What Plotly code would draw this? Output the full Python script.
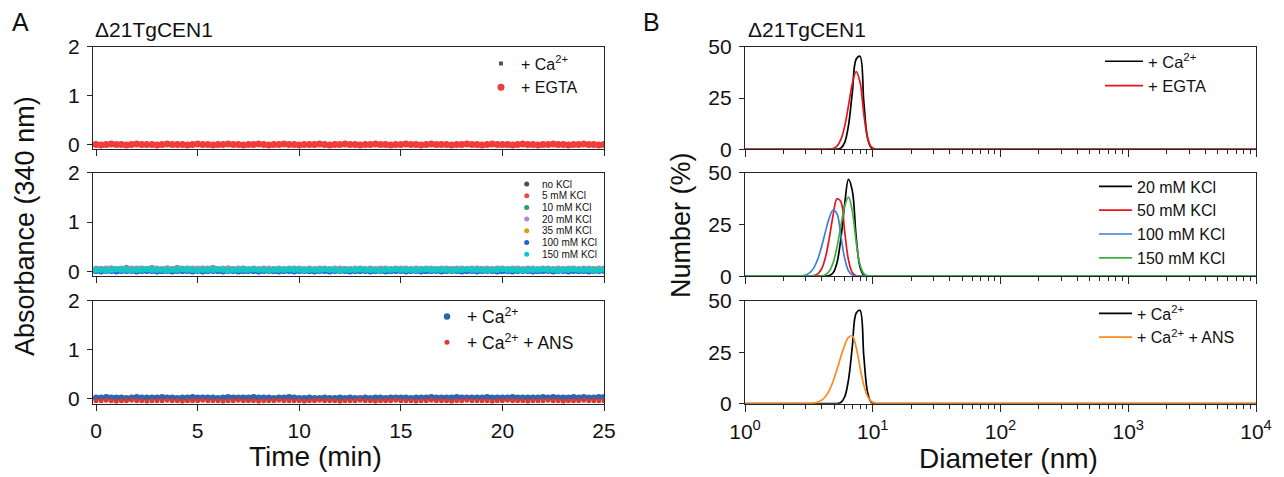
import plotly.graph_objects as go

W, H = 1284, 477
FONT = "Liberation Sans, Arial, sans-serif"
INK = "#111111"
AXIS = "#262626"

# ---------------- Panel A: turbidity (absorbance at 340 nm) vs time ----------------
TIME_MIN = [
    0.00, 0.25, 0.50, 0.75, 1.00, 1.25, 1.50, 1.75, 2.00, 2.25,
    2.50, 2.75, 3.00, 3.25, 3.50, 3.75, 4.00, 4.25, 4.50, 4.75,
    5.00, 5.25, 5.50, 5.75, 6.00, 6.25, 6.50, 6.75, 7.00, 7.25,
    7.50, 7.75, 8.00, 8.25, 8.50, 8.75, 9.00, 9.25, 9.50, 9.75,
    10.00, 10.25, 10.50, 10.75, 11.00, 11.25, 11.50, 11.75, 12.00, 12.25,
    12.50, 12.75, 13.00, 13.25, 13.50, 13.75, 14.00, 14.25, 14.50, 14.75,
    15.00, 15.25, 15.50, 15.75, 16.00, 16.25, 16.50, 16.75, 17.00, 17.25,
    17.50, 17.75, 18.00, 18.25, 18.50, 18.75, 19.00, 19.25, 19.50, 19.75,
    20.00, 20.25, 20.50, 20.75, 21.00, 21.25, 21.50, 21.75, 22.00, 22.25,
    22.50, 22.75, 23.00, 23.25, 23.50, 23.75, 24.00, 24.25, 24.50, 24.75,
    25.00,
]

# top: +Ca2+ / +EGTA
ABS_CA_TOP = [
    0.01, 0.00, 0.01, 0.00, 0.00, 0.01, 0.01, 0.00, 0.01, 0.00,
    0.00, 0.01, 0.00, 0.01, 0.01, 0.00, 0.00, 0.01, 0.00, 0.01,
    0.01, 0.00, 0.00, 0.01, 0.00, 0.01, 0.00, 0.00, 0.01, 0.01,
    0.00, 0.01, 0.01, 0.00, 0.00, 0.01, 0.00, 0.01, 0.00, 0.00,
    0.01, 0.00, 0.01, 0.01, 0.00, 0.00, 0.01, 0.00, 0.01, 0.00,
    0.00, 0.01, 0.00, 0.00, 0.01, 0.01, 0.00, 0.01, 0.00, 0.01,
    0.01, 0.00, 0.01, 0.00, 0.00, 0.01, 0.00, 0.01, 0.01, 0.00,
    0.00, 0.01, 0.00, 0.01, 0.00, 0.00, 0.01, 0.01, 0.00, 0.01,
    0.01, 0.00, 0.00, 0.01, 0.01, 0.00, 0.01, 0.00, 0.00, 0.01,
    0.00, 0.01, 0.01, 0.00, 0.01, 0.00, 0.00, 0.01, 0.00, 0.01,
    0.01,
]
ABS_EGTA_TOP = [
    0.00, -0.01, 0.00, 0.01, 0.00, 0.00, -0.01, 0.00, 0.01, 0.00,
    0.00, 0.00, -0.01, 0.00, 0.01, 0.00, 0.00, 0.00, -0.01, 0.00,
    0.01, 0.00, 0.00, -0.01, 0.00, 0.00, 0.01, 0.00, 0.00, -0.01,
    0.00, 0.00, 0.01, 0.00, -0.01, 0.00, 0.00, 0.01, 0.00, 0.00,
    -0.01, 0.00, 0.00, 0.00, 0.01, 0.00, -0.01, 0.00, 0.00, 0.01,
    0.00, 0.00, -0.01, 0.00, 0.00, 0.01, 0.00, 0.00, -0.01, 0.00,
    0.00, 0.01, 0.00, 0.00, -0.01, 0.00, 0.01, 0.00, 0.00, 0.00,
    -0.01, 0.00, 0.00, 0.01, 0.00, 0.00, -0.01, 0.00, 0.01, 0.00,
    0.00, 0.00, -0.01, 0.00, 0.01, 0.00, 0.00, -0.01, 0.00, 0.00,
    0.01, 0.00, 0.00, -0.01, 0.00, 0.00, 0.01, 0.00, 0.00, -0.01,
    0.00,
]

# middle: KCl series
ABS_KCL_0 = [
    0.02, 0.03, 0.02, 0.02, 0.01, 0.02, 0.03, 0.02, 0.02, 0.02,
    0.03, 0.02, 0.02, 0.01, 0.02, 0.02, 0.03, 0.02, 0.02, 0.02,
    0.02, 0.01, 0.02, 0.03, 0.02, 0.02, 0.02, 0.03, 0.02, 0.01,
    0.02, 0.02, 0.03, 0.02, 0.02, 0.01, 0.02, 0.02, 0.03, 0.02,
    0.02, 0.02, 0.01, 0.02, 0.03, 0.02, 0.02, 0.02, 0.02, 0.03,
    0.02, 0.01, 0.02, 0.02, 0.03, 0.02, 0.02, 0.02, 0.01, 0.02,
    0.03, 0.02, 0.02, 0.02, 0.02, 0.01, 0.02, 0.03, 0.02, 0.02,
    0.02, 0.02, 0.03, 0.01, 0.02, 0.02, 0.02, 0.03, 0.02, 0.02,
    0.01, 0.02, 0.02, 0.03, 0.02, 0.02, 0.02, 0.01, 0.02, 0.03,
    0.02, 0.02, 0.02, 0.02, 0.03, 0.01, 0.02, 0.02, 0.02, 0.03,
    0.02,
]
ABS_KCL_5 = [
    0.03, 0.02, 0.02, 0.03, 0.03, 0.02, 0.03, 0.02, 0.03, 0.03,
    0.02, 0.03, 0.03, 0.02, 0.02, 0.03, 0.03, 0.02, 0.03, 0.02,
    0.03, 0.03, 0.02, 0.03, 0.02, 0.03, 0.03, 0.02, 0.02, 0.03,
    0.02, 0.03, 0.03, 0.02, 0.03, 0.03, 0.02, 0.02, 0.03, 0.03,
    0.03, 0.02, 0.03, 0.03, 0.02, 0.03, 0.02, 0.03, 0.03, 0.02,
    0.02, 0.03, 0.02, 0.03, 0.03, 0.02, 0.03, 0.03, 0.02, 0.03,
    0.03, 0.02, 0.03, 0.02, 0.03, 0.03, 0.02, 0.03, 0.03, 0.02,
    0.02, 0.03, 0.03, 0.02, 0.03, 0.02, 0.03, 0.03, 0.02, 0.03,
    0.03, 0.03, 0.02, 0.03, 0.02, 0.03, 0.03, 0.02, 0.03, 0.03,
    0.02, 0.03, 0.03, 0.02, 0.03, 0.03, 0.02, 0.03, 0.02, 0.03,
    0.03,
]
ABS_KCL_10 = [
    0.03, 0.04, 0.03, 0.05, 0.03, 0.04, 0.06, 0.03, 0.04, 0.05,
    0.03, 0.06, 0.04, 0.03, 0.05, 0.04, 0.06, 0.03, 0.05, 0.04,
    0.03, 0.05, 0.04, 0.06, 0.03, 0.04, 0.05, 0.03, 0.04, 0.05,
    0.03, 0.04, 0.03, 0.04, 0.03, 0.03, 0.04, 0.03, 0.03, 0.04,
    0.03, 0.03, 0.04, 0.03, 0.03, 0.04, 0.03, 0.03, 0.03, 0.04,
    0.03, 0.03, 0.04, 0.03, 0.03, 0.03, 0.04, 0.03, 0.03, 0.04,
    0.03, 0.04, 0.03, 0.03, 0.04, 0.03, 0.03, 0.04, 0.03, 0.03,
    0.04, 0.03, 0.03, 0.03, 0.04, 0.03, 0.04, 0.03, 0.03, 0.04,
    0.03, 0.03, 0.04, 0.03, 0.03, 0.04, 0.03, 0.03, 0.04, 0.03,
    0.03, 0.04, 0.03, 0.03, 0.04, 0.03, 0.03, 0.03, 0.04, 0.03,
    0.03,
]
ABS_KCL_20 = [
    0.05, 0.04, 0.05, 0.05, 0.04, 0.05, 0.04, 0.05, 0.05, 0.04,
    0.04, 0.05, 0.05, 0.04, 0.05, 0.04, 0.05, 0.05, 0.04, 0.05,
    0.05, 0.04, 0.05, 0.05, 0.04, 0.05, 0.05, 0.04, 0.05, 0.04,
    0.04, 0.05, 0.04, 0.05, 0.05, 0.04, 0.05, 0.04, 0.05, 0.05,
    0.05, 0.04, 0.05, 0.04, 0.05, 0.05, 0.04, 0.05, 0.05, 0.04,
    0.04, 0.05, 0.05, 0.04, 0.05, 0.04, 0.05, 0.05, 0.04, 0.05,
    0.05, 0.05, 0.04, 0.05, 0.04, 0.05, 0.05, 0.04, 0.05, 0.05,
    0.04, 0.05, 0.05, 0.04, 0.05, 0.05, 0.04, 0.05, 0.04, 0.05,
    0.05, 0.04, 0.05, 0.05, 0.04, 0.05, 0.05, 0.04, 0.05, 0.05,
    0.04, 0.05, 0.04, 0.05, 0.05, 0.04, 0.05, 0.05, 0.04, 0.05,
    0.05,
]
ABS_KCL_35 = [
    0.03, 0.03, 0.02, 0.03, 0.03, 0.03, 0.02, 0.03, 0.03, 0.03,
    0.03, 0.02, 0.03, 0.03, 0.03, 0.03, 0.02, 0.03, 0.03, 0.02,
    0.03, 0.03, 0.03, 0.02, 0.03, 0.03, 0.03, 0.03, 0.02, 0.03,
    0.03, 0.02, 0.03, 0.03, 0.03, 0.03, 0.02, 0.03, 0.03, 0.03,
    0.02, 0.03, 0.03, 0.03, 0.02, 0.03, 0.03, 0.03, 0.03, 0.02,
    0.03, 0.03, 0.02, 0.03, 0.03, 0.03, 0.02, 0.03, 0.03, 0.03,
    0.03, 0.03, 0.02, 0.03, 0.03, 0.02, 0.03, 0.03, 0.03, 0.03,
    0.02, 0.03, 0.03, 0.03, 0.02, 0.03, 0.03, 0.03, 0.03, 0.02,
    0.03, 0.03, 0.03, 0.02, 0.03, 0.03, 0.03, 0.02, 0.03, 0.03,
    0.03, 0.02, 0.03, 0.03, 0.03, 0.03, 0.02, 0.03, 0.03, 0.03,
    0.03,
]
ABS_KCL_100 = [
    0.01, 0.00, 0.01, 0.01, 0.00, 0.01, 0.01, 0.01, 0.00, 0.01,
    0.01, 0.01, 0.00, 0.01, 0.01, 0.00, 0.01, 0.01, 0.01, 0.00,
    0.01, 0.00, 0.01, 0.01, 0.01, 0.00, 0.01, 0.01, 0.00, 0.01,
    0.01, 0.01, 0.00, 0.01, 0.01, 0.01, 0.00, 0.01, 0.01, 0.00,
    0.01, 0.01, 0.01, 0.00, 0.01, 0.01, 0.00, 0.01, 0.01, 0.01,
    0.00, 0.01, 0.01, 0.01, 0.00, 0.01, 0.01, 0.00, 0.01, 0.01,
    0.01, 0.00, 0.01, 0.01, 0.00, 0.01, 0.01, 0.01, 0.00, 0.01,
    0.01, 0.01, 0.00, 0.01, 0.01, 0.00, 0.01, 0.01, 0.01, 0.00,
    0.01, 0.01, 0.00, 0.01, 0.01, 0.01, 0.00, 0.01, 0.01, 0.01,
    0.00, 0.01, 0.01, 0.00, 0.01, 0.01, 0.01, 0.00, 0.01, 0.01,
    0.01,
]
ABS_KCL_150 = [
    0.03, 0.03, 0.02, 0.03, 0.04, 0.03, 0.03, 0.02, 0.03, 0.03,
    0.04, 0.03, 0.03, 0.03, 0.02, 0.03, 0.03, 0.04, 0.03, 0.03,
    0.02, 0.03, 0.03, 0.03, 0.04, 0.03, 0.02, 0.03, 0.03, 0.03,
    0.03, 0.04, 0.03, 0.03, 0.02, 0.03, 0.03, 0.03, 0.04, 0.03,
    0.03, 0.02, 0.03, 0.03, 0.03, 0.04, 0.03, 0.03, 0.02, 0.03,
    0.03, 0.03, 0.04, 0.03, 0.03, 0.03, 0.02, 0.03, 0.03, 0.04,
    0.03, 0.03, 0.03, 0.02, 0.03, 0.04, 0.03, 0.03, 0.03, 0.03,
    0.02, 0.03, 0.03, 0.04, 0.03, 0.03, 0.03, 0.02, 0.03, 0.03,
    0.04, 0.03, 0.03, 0.03, 0.02, 0.03, 0.03, 0.03, 0.04, 0.03,
    0.03, 0.02, 0.03, 0.03, 0.04, 0.03, 0.03, 0.03, 0.02, 0.03,
    0.03,
]

# bottom: +Ca2+ / +Ca2+ +ANS
ABS_CA_BOT = [
    0.02, 0.02, 0.03, 0.02, 0.02, 0.02, 0.01, 0.02, 0.03, 0.02,
    0.02, 0.02, 0.02, 0.03, 0.02, 0.02, 0.01, 0.02, 0.02, 0.03,
    0.02, 0.02, 0.02, 0.02, 0.01, 0.02, 0.03, 0.02, 0.02, 0.02,
    0.02, 0.03, 0.02, 0.02, 0.02, 0.01, 0.02, 0.02, 0.03, 0.02,
    0.01, 0.01, 0.02, 0.01, 0.01, 0.02, 0.01, 0.01, 0.02, 0.01,
    0.02, 0.01, 0.01, 0.02, 0.01, 0.02, 0.02, 0.01, 0.02, 0.02,
    0.02, 0.02, 0.01, 0.02, 0.02, 0.02, 0.03, 0.02, 0.02, 0.02,
    0.02, 0.03, 0.02, 0.02, 0.02, 0.02, 0.02, 0.03, 0.02, 0.02,
    0.02, 0.02, 0.03, 0.02, 0.02, 0.02, 0.02, 0.02, 0.03, 0.02,
    0.03, 0.02, 0.02, 0.02, 0.03, 0.02, 0.03, 0.02, 0.02, 0.03,
    0.03,
]
ABS_ANS_BOT = [
    -0.04, -0.04, -0.03, -0.04, -0.05, -0.04, -0.04, -0.03, -0.04, -0.04,
    -0.05, -0.04, -0.04, -0.04, -0.03, -0.04, -0.04, -0.05, -0.04, -0.04,
    -0.04, -0.03, -0.04, -0.04, -0.04, -0.05, -0.04, -0.04, -0.03, -0.04,
    -0.04, -0.04, -0.05, -0.04, -0.04, -0.04, -0.03, -0.04, -0.04, -0.04,
    -0.04, -0.05, -0.04, -0.04, -0.03, -0.04, -0.04, -0.04, -0.05, -0.04,
    -0.04, -0.04, -0.03, -0.04, -0.04, -0.05, -0.04, -0.04, -0.04, -0.03,
    -0.04, -0.04, -0.04, -0.05, -0.04, -0.04, -0.03, -0.04, -0.04, -0.04,
    -0.05, -0.04, -0.04, -0.03, -0.04, -0.04, -0.04, -0.04, -0.05, -0.04,
    -0.04, -0.03, -0.04, -0.04, -0.04, -0.05, -0.04, -0.04, -0.04, -0.03,
    -0.04, -0.04, -0.05, -0.04, -0.04, -0.04, -0.03, -0.04, -0.04, -0.04,
    -0.04,
]

# ---------------- Panel B: DLS number distributions ----------------
DIAMETER_NM = [
    1.0,
    1.995, 2.138, 2.291, 2.455, 2.630, 2.818, 3.020, 3.236, 3.467, 3.715,
    3.981, 4.266, 4.571, 4.898, 5.248, 5.623, 6.026, 6.457, 6.918, 7.413,
    7.943, 8.511, 9.120, 9.772, 10.47, 11.22, 12.02, 12.88,
    10000.0,
]
NUM_CA = [
    0,
    0, 0, 0, 0, 0, 0, 0, 0, 0, 0,
    0, 0, 0.0, 0.01, 0.07, 0.60, 3.24, 11.6, 27.7, 43.9,
    45.3, 23.1, 5.39, 0.58, 0.03, 0, 0, 0,
    0,
]
NUM_EGTA = [
    0,
    0, 0, 0, 0, 0, 0, 0, 0, 0, 0,
    0.0, 0.01, 0.08, 0.40, 1.54, 4.68, 11.2, 21.3, 32.0, 37.9,
    32.9, 17.2, 5.42, 1.02, 0.12, 0.01, 0, 0,
    0,
]
NUM_KCL_20 = [
    0,
    0, 0, 0, 0, 0, 0, 0, 0, 0, 0,
    0, 0.03, 0.29, 1.63, 6.47, 17.9, 34.7, 46.8, 41.3, 19.2,
    4.61, 0.57, 0.04, 0, 0, 0, 0, 0,
    0,
]
NUM_KCL_50 = [
    0,
    0, 0, 0, 0, 0, 0, 0.01, 0.05, 0.27, 1.12,
    3.60, 9.18, 18.5, 29.6, 37.4, 36.1, 21.7, 7.81, 1.69, 0.22,
    0.02, 0, 0, 0, 0, 0, 0, 0,
    0,
]
NUM_KCL_100 = [
    0,
    0, 0, 0, 0.02, 0.06, 0.23, 0.69, 1.82, 4.17, 8.31,
    14.4, 21.6, 28.2, 32.0, 30.2, 19.7, 8.66, 2.58, 0.52, 0.07,
    0.01, 0, 0, 0, 0, 0, 0, 0,
    0,
]
NUM_KCL_150 = [
    0,
    0, 0, 0, 0, 0, 0, 0, 0, 0.01, 0.04,
    0.19, 0.76, 2.48, 6.57, 14.0, 24.2, 33.8, 38.2, 31.5, 16.6,
    5.64, 1.23, 0.17, 0.02, 0, 0, 0, 0,
    0,
]
NUM_ANS = [
    0,
    0, 0, 0, 0, 0, 0.01, 0.04, 0.12, 0.31, 0.78,
    1.74, 3.53, 6.52, 10.9, 16.6, 22.8, 28.4, 32.2, 32.9, 27.4,
    17.7, 8.96, 3.52, 1.08, 0.26, 0.05, 0.01, 0,
    0,
]

DIAMETER_TICKS = [1, 10, 100, 1000, 10000]
DIAMETER_TICKTEXT = ["10<sup>0</sup>", "10<sup>1</sup>", "10<sup>2</sup>",
                     "10<sup>3</sup>", "10<sup>4</sup>"]
KCL_LABELS = ["no KCl", "5 mM KCl", "10 mM KCl", "20 mM KCl",
              "35 mM KCl", "100 mM KCl", "150 mM KCl"]
KCL_COLORS = ["#4d4d4d", "#f0454a", "#2f9e62", "#b57fdc",
              "#d69e12", "#1f63d6", "#14c6c6"]


def px_x(p):
    return p / W


def px_y(p):
    return 1 - p / H


# subplot boxes in pixels
A_X = (93, 604)
B_X = (745, 1256)
ROWS = [(46.7, 149.3), (172.8, 276.2), (300.7, 403.7)]
DOT = 7

fig = go.Figure()

# ---- Panel A traces ----
fig.add_trace(go.Scatter(x=TIME_MIN, y=ABS_CA_TOP, mode="markers", name="+ Ca<sup>2+</sup>",
                         marker=dict(symbol="square", size=4, color="#555555"),
                         xaxis="x", yaxis="y", legend="legend"))
fig.add_trace(go.Scatter(x=TIME_MIN, y=ABS_EGTA_TOP, mode="markers", name="+ EGTA",
                         marker=dict(size=DOT, color="#f03c3c"),
                         xaxis="x", yaxis="y", legend="legend"))

kcl_series = [ABS_KCL_0, ABS_KCL_5, ABS_KCL_10, ABS_KCL_20,
              ABS_KCL_35, ABS_KCL_100, ABS_KCL_150]
for lab, col, vals in zip(KCL_LABELS, KCL_COLORS, kcl_series):
    fig.add_trace(go.Scatter(x=TIME_MIN, y=vals, mode="markers", name=lab,
                             marker=dict(size=DOT - 0.5, color=col), showlegend=False,
                             xaxis="x2", yaxis="y2"))

fig.add_trace(go.Scatter(x=TIME_MIN, y=ABS_CA_BOT, mode="markers", name="+ Ca<sup>2+</sup>",
                         marker=dict(size=DOT - 0.5, color="#2f65ad"),
                         xaxis="x3", yaxis="y3", legend="legend2"))
fig.add_trace(go.Scatter(x=TIME_MIN, y=ABS_ANS_BOT, mode="markers",
                         name="+ Ca<sup>2+</sup> + ANS",
                         marker=dict(size=5, color="#d93a34"),
                         xaxis="x3", yaxis="y3", legend="legend2"))


# ---- Panel B traces ----
def dls(y, name, color, xa, ya, leg):
    return go.Scatter(x=DIAMETER_NM, y=y, mode="lines", name=name,
                      line=dict(color=color, width=1.7, shape="spline", smoothing=1.0),
                      xaxis=xa, yaxis=ya, legend=leg)


fig.add_trace(dls(NUM_CA, "+ Ca<sup>2+</sup>", "#000000", "x4", "y4", "legend3"))
fig.add_trace(dls(NUM_EGTA, "+ EGTA", "#e8141c", "x4", "y4", "legend3"))

fig.add_trace(dls(NUM_KCL_20, "20 mM KCl", "#000000", "x5", "y5", "legend4"))
fig.add_trace(dls(NUM_KCL_50, "50 mM KCl", "#e8141c", "x5", "y5", "legend4"))
fig.add_trace(dls(NUM_KCL_100, "100 mM KCl", "#3b82d6", "x5", "y5", "legend4"))
fig.add_trace(dls(NUM_KCL_150, "150 mM KCl", "#3fae45", "x5", "y5", "legend4"))

fig.add_trace(dls(NUM_CA, "+ Ca<sup>2+</sup>", "#000000", "x6", "y6", "legend5"))
fig.add_trace(dls(NUM_ANS, "+ Ca<sup>2+</sup> + ANS", "#ff8a1e", "x6", "y6", "legend5"))

# ---- axes ----
tickfont = dict(family=FONT, size=21, color=INK)


def xaxis_a(row, labels):
    return dict(domain=[px_x(A_X[0]), px_x(A_X[1])], anchor=f"y{row}" if row > 1 else "y",
                range=[-0.15, 25.0], tickvals=[0, 5, 10, 15, 20, 25],
                showticklabels=labels, ticks="outside", ticklen=6, tickwidth=1.2,
                tickcolor=AXIS, showline=True, linecolor=AXIS, linewidth=1.3,
                mirror=True, showgrid=False, zeroline=False, tickfont=tickfont,
                ticklabelstandoff=2, automargin=False)


def yaxis_a(row):
    y0, y1 = ROWS[row - 1]
    return dict(domain=[px_y(y1), px_y(y0)], anchor=f"x{row}" if row > 1 else "x",
                range=[-0.1, 2.0], tickvals=[0, 1, 2], ticks="outside", ticklen=5,
                tickwidth=1.2, tickcolor=AXIS, showline=True, linecolor=AXIS,
                linewidth=1.3, mirror=True, showgrid=False, zeroline=False,
                tickfont=tickfont, ticklabelstandoff=3, automargin=False)


MINOR_D = [m * 10 ** k for k in range(4) for m in range(2, 10)]


def xaxis_b(row, labels):
    return dict(domain=[px_x(B_X[0]), px_x(B_X[1])], anchor=f"y{row + 3}",
                type="log", range=[0, 4], tickvals=DIAMETER_TICKS,
                ticktext=DIAMETER_TICKTEXT, showticklabels=labels,
                ticks="outside", ticklen=7, tickwidth=1.2, tickcolor=AXIS,
                minor=dict(tickvals=MINOR_D, ticks="outside", ticklen=4,
                           tickwidth=1, tickcolor=AXIS, showgrid=False),
                showline=True, linecolor=AXIS, linewidth=1.3, mirror=True,
                showgrid=False, zeroline=False, tickfont=tickfont,
                ticklabelstandoff=2, automargin=False)


def yaxis_b(row):
    y0, y1 = ROWS[row - 1]
    return dict(domain=[px_y(y1), px_y(y0)], anchor=f"x{row + 3}",
                range=[0, 50], tickvals=[0, 25, 50], ticks="outside", ticklen=5,
                tickwidth=1.2, tickcolor=AXIS, showline=True, linecolor=AXIS,
                linewidth=1.3, mirror=True, showgrid=False, zeroline=False,
                tickfont=tickfont, ticklabelstandoff=3, automargin=False)


def legend_at(x_px, y_px, size, itemwidth=30):
    return dict(x=px_x(x_px), y=px_y(y_px), xanchor="left", yanchor="top",
                bgcolor="rgba(0,0,0,0)", borderwidth=0, itemwidth=itemwidth,
                font=dict(family=FONT, size=size, color=INK),
                tracegroupgap=0, itemsizing="trace")


layout = dict(
    width=W, height=H, autosize=False,
    margin=dict(l=0, r=0, t=0, b=0, pad=0, autoexpand=False),
    paper_bgcolor="white", plot_bgcolor="white",
    font=dict(family=FONT, color=INK),
    showlegend=True,
    xaxis=xaxis_a(1, False), yaxis=yaxis_a(1),
    xaxis2=xaxis_a(2, False), yaxis2=yaxis_a(2),
    xaxis3=xaxis_a(3, True), yaxis3=yaxis_a(3),
    xaxis4=xaxis_b(1, False), yaxis4=yaxis_b(1),
    xaxis5=xaxis_b(2, False), yaxis5=yaxis_b(2),
    xaxis6=xaxis_b(3, True), yaxis6=yaxis_b(3),
    legend=legend_at(481, 46.5, 16),
    legend2=legend_at(427, 298.5, 17.5),
    legend3=legend_at(1100, 44, 16.5, itemwidth=38),
    legend4=legend_at(1094, 169.5, 16, itemwidth=33),
    legend5=legend_at(1094, 296.5, 16, itemwidth=33),
)
fig.update_layout(**layout)

# ---- compact key for the KCl series (rows too tight for a native legend) ----
shapes = []
annotations = []
key_x, key_y0, key_step = 526.7, 184.0, 11.7
for i, (lab, col) in enumerate(zip(KCL_LABELS, KCL_COLORS)):
    yy = key_y0 + i * key_step
    shapes.append(dict(type="circle", xref="paper", yref="paper",
                       xsizemode="pixel", ysizemode="pixel",
                       xanchor=px_x(key_x), yanchor=px_y(yy),
                       x0=-2.5, x1=2.5, y0=-2.5, y1=2.5,
                       fillcolor=col, line=dict(width=0)))
    annotations.append(dict(text=lab, xref="paper", yref="paper",
                            x=px_x(key_x + 13), y=px_y(yy), xanchor="left",
                            yanchor="middle", showarrow=False,
                            font=dict(family=FONT, size=10, color=INK)))


def label(text, x, y, size, angle=0, xanchor="center"):
    return dict(text=text, xref="paper", yref="paper", x=px_x(x), y=px_y(y),
                xanchor=xanchor, yanchor="middle", showarrow=False, textangle=angle,
                font=dict(family=FONT, size=size, color=INK))


annotations += [
    label("A", 20, 22, 25),
    label("B", 651, 22, 25),
    label("\u039421TgCEN1", 93, 30, 21, xanchor="left"),
    label("\u039421TgCEN1", 746, 30, 21, xanchor="left"),
    label("Time (min)", 315, 456, 28),
    label("Diameter (nm)", 1009, 458, 28),
    label("Absorbance (340 nm)", 25, 226, 27, angle=-90),
    label("Number (%)", 681, 225, 27, angle=-90),
]

fig.update_layout(shapes=shapes, annotations=annotations)

fig.write_html("out.html")
